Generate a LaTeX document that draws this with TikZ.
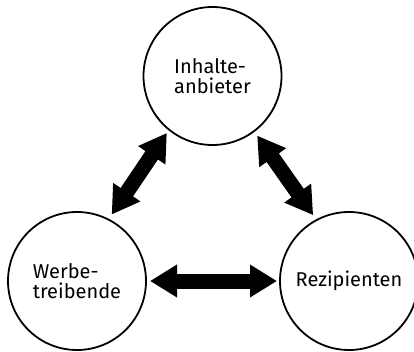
\documentclass[tikz,border=0pt]{standalone}
\usepackage{fontspec}
\setmainfont{Fira Sans}
\usetikzlibrary{arrows.meta}
\tikzset{
  party/.style={circle, draw=black, line width=1.8pt, minimum size=138pt, inner sep=0pt, outer sep=0pt,
    font=\fontsize{20}{19.5}\selectfont, align=left, text=black},
  bigarrow/.style={line width=15pt, {Triangle[length=27pt,width=31pt]}-{Triangle[length=27pt,width=31pt]}}
}
\begin{document}
\begin{tikzpicture}[x=1pt,y=-1pt]
\useasboundingbox (0,0) rectangle (414,351);
\node[party] (inh) at (212.5,76) {Inhalte-\\anbieter};
\node[party] (wer) at (77,281) {Werbe-\\treibende};
\node[party] (rez) at (349,281) {Rezipienten};
\draw[bigarrow, shorten <=4pt, shorten >=6pt] (inh.231.4) -- (wer.63.1);
\draw[bigarrow, shorten <=5.5pt, shorten >=6pt] (inh.307.6) -- (rez.118.6);
\draw[bigarrow, shorten <=4pt, shorten >=3pt] (wer.0) -- (rez.180);
\end{tikzpicture}
\end{document}
